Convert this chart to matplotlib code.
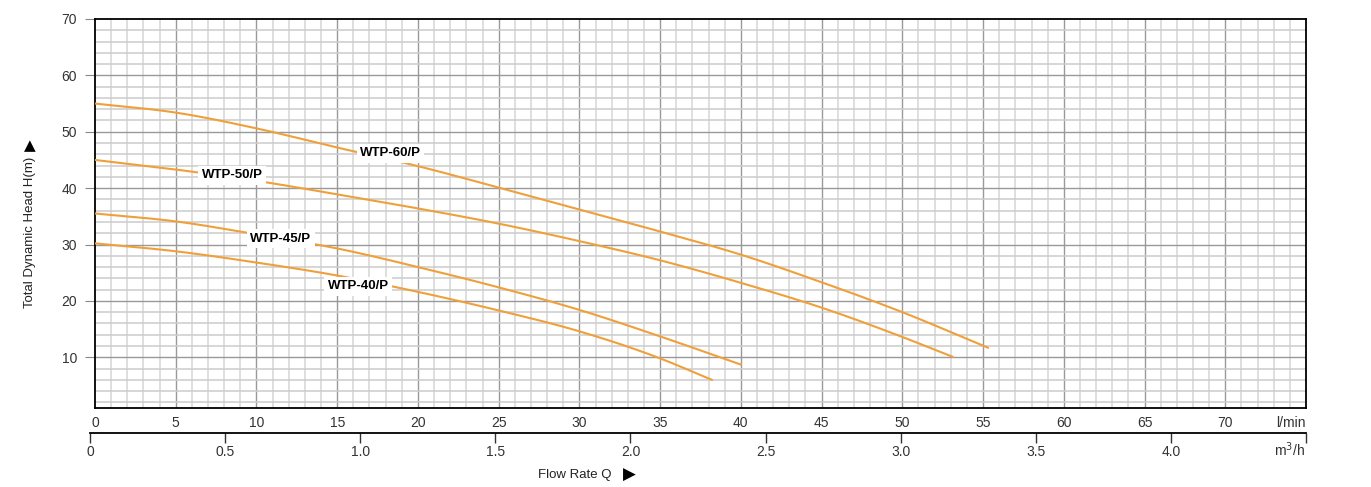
import matplotlib.pyplot as plt
import numpy as np

plt.rcParams['font.family'] = ['Liberation Sans', 'DejaVu Sans']

# flow (l/min) -> head (m)
q_60 = [0, 5, 10, 15, 20, 25, 30, 35, 40, 45, 50, 55.3]
h_60 = [55, 53.4, 50.6, 47.2, 43.9, 40.1, 36.2, 32.3, 28.2, 23.3, 18.0, 11.7]
q_50 = [0, 5, 10, 15, 20, 25, 30, 35, 40, 45, 50, 53.1]
h_50 = [45, 43.3, 41.3, 38.9, 36.4, 33.7, 30.6, 27.2, 23.2, 18.8, 13.6, 10.1]
q_45 = [0, 5, 10, 15, 20, 25, 30, 35, 40]
h_45 = [35.5, 34.1, 31.8, 29.3, 26.0, 22.4, 18.4, 13.7, 8.7]
q_40 = [0, 5, 10, 15, 20, 25, 30, 35, 38.2]
h_40 = [30.2, 28.8, 26.8, 24.5, 21.6, 18.3, 14.6, 9.8, 6.0]

names = ["WTP-60/P", "WTP-50/P", "WTP-45/P", "WTP-40/P"]
label_pos = [(18.3, 46.2), (8.5, 42.3), (11.5, 31.0), (16.3, 22.6)]


def smooth(q, h, n=300):
    # cubic hermite through the read points
    q = np.asarray(q, float)
    h = np.asarray(h, float)
    m = np.gradient(h, q)
    xs = np.linspace(q[0], q[-1], n)
    i = np.clip(np.searchsorted(q, xs) - 1, 0, len(q) - 2)
    dx = q[i + 1] - q[i]
    t = (xs - q[i]) / dx
    h00 = 2*t**3 - 3*t**2 + 1
    h10 = t**3 - 2*t**2 + t
    h01 = -2*t**3 + 3*t**2
    h11 = t**3 - t**2
    ys = h00*h[i] + h10*dx*m[i] + h01*h[i+1] + h11*dx*m[i+1]
    return xs, ys


fig = plt.figure(figsize=(13.71, 4.87), dpi=100)
ax = fig.add_axes([95/1371, 1-408/487, (1306-95)/1371, (408-19)/487])

ax.set_xlim(0, 75)
ax.set_ylim(1, 70)

# grid
for x in range(1, 75):
    major = x % 5 == 0
    ax.axvline(x, color='#999999' if major else '#d6d6d6', lw=1.0 if major else 1.1, zorder=1)
for y in range(2, 70, 2):
    major = y % 10 == 0
    ax.axhline(y, color='#999999' if major else '#cccccc', lw=1.0 if major else 1.1, zorder=1)

col = '#EFA03A'
for q, h in [(q_60, h_60), (q_50, h_50), (q_45, h_45), (q_40, h_40)]:
    xs, ys = smooth(q, h)
    ax.plot(xs, ys, color=col, lw=1.5, zorder=3)

for (x, y), n in zip(label_pos, names):
    ax.text(x, y, n, fontsize=9.5, fontweight='bold', ha='center', va='center', zorder=5,
            bbox=dict(facecolor='white', edgecolor='none', pad=2.5))

ax.set_xticks(range(0, 75, 5))
ax.set_xticklabels([str(v) for v in range(0, 75, 5)])
ax.set_yticks(range(10, 80, 10))
ax.tick_params(axis='x', length=0, labelsize=10, labelcolor='#333333', pad=6)
ax.tick_params(axis='y', length=7, color='#888888', labelsize=10, labelcolor='#333333', pad=6)
ax.annotate("l/min", xy=(75, 0), xycoords=('data', 'axes fraction'), xytext=(0, -6),
            textcoords='offset points', ha='right', va='top', fontsize=10, color='#333333')
for s in ax.spines.values():
    s.set_linewidth(1.3)
    s.set_color('black')

fig.text(30/1371, 1-232/487, "Total Dynamic Head H(m)", rotation=90, ha='center', va='center',
         fontsize=9.5, color='#222222')
fig.text(30/1371, 1-146/487, "\u25B2", rotation=0, ha='center', va='center',
         fontsize=11, color='black', family='DejaVu Sans')

# m3/h scale
ax2 = fig.add_axes([90/1371, 1-433/487, (1306-90)/1371, 0.001])
ax2.set_xlim(0, 4.5)
ax2.set_yticks([])
for k in ['top', 'left', 'right']:
    ax2.spines[k].set_visible(False)
ax2.spines['bottom'].set_linewidth(1.3)
ax2.set_xticks(np.arange(0, 4.55, 0.5))
ax2.set_xticklabels(["0", "0.5", "1.0", "1.5", "2.0", "2.5", "3.0", "3.5", "4.0", ""])
ax2.tick_params(axis='x', length=7, width=1.0, color='#333333', labelsize=10,
                labelcolor='#333333', pad=2)
ax2.annotate("m$^3$/h", xy=(4.5, 0), xycoords=('data', 'axes fraction'), xytext=(-1, -5),
             textcoords='offset points', ha='right', va='top', fontsize=10, color='#333333')

fig.text(575/1371, 1-475/487, "Flow Rate Q", ha='center', va='center', fontsize=9.5, color='#222222')
fig.text(629/1371, 1-475/487, "\u25B6", ha='center', va='center', fontsize=12, color='black',
         family='DejaVu Sans')

fig.savefig("out.png", dpi=100)
